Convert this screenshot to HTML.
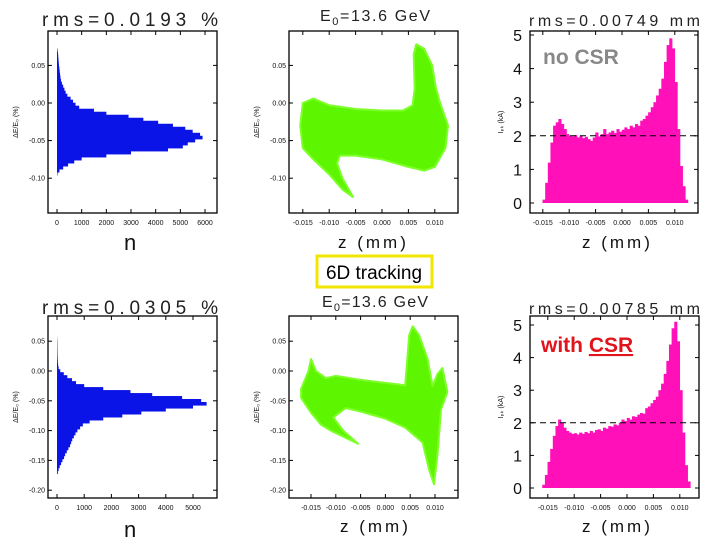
<!DOCTYPE html>
<html><head><meta charset="utf-8"><style>
html,body{margin:0;padding:0;background:#fff;}
svg{display:block;font-family:"Liberation Sans",sans-serif;}
.tt{font-size:19px;font-weight:300;fill:#222}
.tk{font-size:7px;fill:#111}
.big{font-size:16px;fill:#111}
.ax{font-size:17px;letter-spacing:3px;fill:#111}
</style></head><body>
<svg id="fig" width="720" height="540" viewBox="0 0 720 540" xmlns="http://www.w3.org/2000/svg">
<g id="layer"></g>
<text class="tt" x="42" y="26" textLength="176" lengthAdjust="spacing">rms=0.0193 %</text>
<text class="tt" x="320" y="21" style="font-size:16px" textLength="110" lengthAdjust="spacing">E<tspan dy="4" font-size="11">0</tspan><tspan dy="-4">=13.6 GeV</tspan></text>
<text class="tt" x="529" y="26" style="font-size:16px" textLength="171" lengthAdjust="spacing">rms=0.00749 mm</text>
<text class="tt" x="42" y="314" textLength="176" lengthAdjust="spacing">rms=0.0305 %</text>
<text class="tt" x="322" y="307" style="font-size:16px" textLength="106" lengthAdjust="spacing">E<tspan dy="4" font-size="11">0</tspan><tspan dy="-4">=13.6 GeV</tspan></text>
<text class="tt" x="529" y="314" style="font-size:16px" textLength="171" lengthAdjust="spacing">rms=0.00785 mm</text>
<text class="ax" x="124" y="250" style="font-size:22px">n</text>
<text class="ax" x="338" y="248">z (mm)</text>
<text class="ax" x="582" y="248">z (mm)</text>
<text class="ax" x="124" y="537" style="font-size:22px">n</text>
<text class="ax" x="340" y="532">z (mm)</text>
<text class="ax" x="582" y="532">z (mm)</text>
<rect x="317" y="256" width="115" height="31" fill="#fff" stroke="#f2e600" stroke-width="3"/>
<text x="374" y="279" text-anchor="middle" font-size="19" fill="#000">6D tracking</text>
<text x="543" y="64" font-size="21" font-weight="bold" fill="#888">no CSR</text>
<text x="541" y="352" font-size="21" font-weight="bold" fill="#e0141c">with <tspan text-decoration="underline">CSR</tspan></text>
</svg>
<script>
// ---- data ----
const blueTopCenters=[0.070,0.066,0.062,0.058,0.054,0.050,0.046,0.042,0.038,0.034,0.030,0.026,0.022,0.018,0.014,0.010,0.006,0.002,-0.002,-0.006,-0.010,-0.014,-0.018,-0.022,-0.026,-0.030,-0.034,-0.038,-0.042,-0.046,-0.050,-0.054,-0.058,-0.062,-0.066,-0.070,-0.074,-0.078,-0.082,-0.086,-0.090,-0.094];
const blueTopCounts=[20,40,50,60,70,80,95,110,125,140,160,200,250,300,350,420,550,650,750,900,1500,2000,2900,3500,4100,4700,5200,5500,5800,5900,5600,5300,5100,4500,3000,2000,1000,700,450,250,100,20];
const blueBotCenters=[0.055,0.05,0.045,0.04,0.035,0.03,0.025,0.02,0.015,0.01,0.005,0.0,-0.005,-0.01,-0.015,-0.02,-0.025,-0.03,-0.035,-0.04,-0.045,-0.05,-0.055,-0.06,-0.065,-0.07,-0.075,-0.08,-0.085,-0.09,-0.095,-0.1,-0.105,-0.11,-0.115,-0.12,-0.125,-0.13,-0.135,-0.14,-0.145,-0.15,-0.155,-0.16,-0.165,-0.17];
const blueBotCounts=[5,10,12,14,16,18,20,25,30,40,60,120,250,380,550,700,1000,1700,2700,3500,4600,5300,5500,5000,4000,3100,2400,1700,1200,950,850,750,680,620,560,520,480,420,360,300,260,200,150,100,60,30];
const pinkTopStart=-0.0148;
const pinkTopCurrent=[0.1,0.6,1.2,1.8,2.3,2.4,2.5,2.35,2.2,2.05,2.0,1.98,2.02,1.95,2.0,1.93,1.97,1.9,1.85,1.95,2.1,1.98,2.05,2.2,2.05,2.1,2.15,2.08,2.2,2.12,2.18,2.25,2.2,2.3,2.25,2.35,2.3,2.45,2.5,2.6,2.7,2.85,3.0,3.2,3.4,3.7,4.2,4.7,4.9,4.6,3.6,2.2,1.1,0.5,0.1];
const pinkBotStart=-0.0158;
const pinkBotCurrent=[0.1,0.4,0.8,1.2,1.6,1.9,2.1,2.0,1.85,1.75,1.7,1.66,1.68,1.64,1.7,1.66,1.72,1.68,1.75,1.7,1.78,1.8,1.75,1.85,1.82,1.9,1.88,1.95,1.92,2.0,2.1,2.05,2.15,2.1,2.2,2.18,2.25,2.3,2.28,2.45,2.5,2.6,2.7,2.8,3.0,3.2,3.5,3.9,4.4,4.9,5.1,4.5,3.0,1.7,0.7,0.2];
const pinkBinWidth=0.0005;
const greenTopZ=[-0.0155,-0.015,-0.013,-0.010,-0.005,0.0,0.004,0.0058,0.0062,0.006,0.0065,0.008,0.0095,0.0102,0.011,0.0125,0.012,0.010,0.008,0.005,0.0,-0.005,-0.008,-0.0085,-0.0075,-0.0055,-0.0075,-0.010,-0.013,-0.015];
const greenTopE=[-0.03,0.0,0.006,-0.003,-0.008,-0.01,-0.01,-0.003,0.02,0.065,0.078,0.072,0.05,0.02,0.0,-0.03,-0.06,-0.085,-0.09,-0.085,-0.075,-0.07,-0.07,-0.08,-0.10,-0.125,-0.115,-0.095,-0.075,-0.06];
const greenBotZ=[-0.017,-0.0155,-0.015,-0.014,-0.012,-0.010,-0.005,0.0,0.004,0.0048,0.0055,0.0068,0.0085,0.0095,0.0105,0.0115,0.0125,0.0112,0.0105,0.0098,0.0088,0.0075,0.004,0.0,-0.005,-0.008,-0.0105,-0.0085,-0.0055,-0.008,-0.011,-0.013,-0.015,-0.017];
const greenBotE=[-0.03,0.0,0.02,0.0,-0.012,-0.008,-0.015,-0.02,-0.024,0.06,0.075,0.06,0.02,-0.025,-0.005,0.005,-0.035,-0.065,-0.14,-0.19,-0.165,-0.12,-0.095,-0.08,-0.068,-0.062,-0.078,-0.1,-0.122,-0.112,-0.1,-0.09,-0.07,-0.045];
const nTicksTop=[0,1000,2000,3000,4000,5000,6000];
const nTicksBot=[0,1000,2000,3000,4000,5000];
const eTicksTop=[0.05,0.00,-0.05,-0.10];
const eTicksBot=[0.05,0.00,-0.05,-0.10,-0.15,-0.20];
const zTicks=[-0.015,-0.010,-0.005,0.000,0.005,0.010];
const iTicks=[0,1,2,3,4,5];

// ---- panels (axis functions) ----
const NS="http://www.w3.org/2000/svg";
const L=document.getElementById('layer');
function mk(tag,attrs){const e=document.createElementNS(NS,tag);for(const k in attrs)e.setAttribute(k,attrs[k]);L.appendChild(e);return e;}
const panels={
 t1:{x0:48,x1:217,y0:31,y1:213,X:n=>57+n*0.02467,Y:v=>103-v*752},
 t2:{x0:289,x1:458,y0:31,y1:213,X:z=>382+z*5280,Y:v=>103-v*752},
 t3:{x0:530,x1:698,y0:31,y1:213,X:z=>622+z*5280,Y:v=>203-v*33.6},
 b1:{x0:48,x1:217,y0:316,y1:498,X:n=>57+n*0.0272,Y:v=>371-v*596},
 b2:{x0:289,x1:458,y0:316,y1:498,X:z=>385.4+z*4960,Y:v=>371-v*596},
 b3:{x0:530,x1:699,y0:316,y1:498,X:z=>627+z*5280,Y:v=>488-v*32.6}
};
function fmtE(v){return v.toFixed(2);}
function frame(key,name,xt,yt,xfmt,yfmt,bigY,ylabel){
 const p=panels[key];
 const r=mk('rect',{x:p.x0,y:p.y0,width:p.x1-p.x0,height:p.y1-p.y0,fill:'none',stroke:'#000','stroke-width':1.3});
 
 
 xt.forEach(v=>{const x=p.X(v);
  mk('line',{x1:x,x2:x,y1:p.y1,y2:p.y1-4,stroke:'#000'});mk('line',{x1:x,x2:x,y1:p.y0,y2:p.y0+4,stroke:'#000'});
  const t=mk('text',{x:x,y:p.y1+12,'text-anchor':'middle',class:'tk'});t.textContent=xfmt(v);
  
  });
 yt.forEach(v=>{const y=p.Y(v);
  mk('line',{x1:p.x0,x2:p.x0+4,y1:y,y2:y,stroke:'#000'});mk('line',{x1:p.x1,x2:p.x1-4,y1:y,y2:y,stroke:'#000'});
  const t=mk('text',{x:p.x0-(bigY?8:3),y:y+(bigY?6:2.5),'text-anchor':'end',class:bigY?'big':'tk'});t.textContent=yfmt(v);
  
  });
 const lx=bigY?503:p.x0-30, ly=(p.y0+p.y1)/2;
 const yl=mk('text',{x:lx,y:ly,'text-anchor':'middle',class:'tk',transform:`rotate(-90 ${lx} ${ly})`});yl.textContent=ylabel;
 
 
}
function blue(key,name,c,n){const p=panels[key];const h=Math.abs(p.Y(0)-p.Y(c[0]-c[1]))+0.6;
 c.forEach((v,i)=>{const y=p.Y(v)-h/2;const b=mk('rect',{x:p.X(0),y:y,width:p.X(n[i])-p.X(0),height:h,fill:'#0a14e6'});
  
  });}
function pink(key,name,start,vals){const p=panels[key];
 vals.forEach((v,i)=>{const z=start+i*pinkBinWidth;const x=p.X(z-pinkBinWidth/2);const w=p.X(z+pinkBinWidth/2)-x+0.5;
  const b=mk('rect',{x:x,y:p.Y(v),width:w,height:p.Y(0)-p.Y(v),fill:'#ff10b8'});
  
  });
 const d=mk('line',{x1:p.x0,x2:p.x1,y1:p.Y(2),y2:p.Y(2),stroke:'#000','stroke-dasharray':'6,4','stroke-width':1});
 
 }
function green(key,name,zs,es){const p=panels[key];
 const pts=zs.map((z,i)=>p.X(z).toFixed(1)+','+p.Y(es[i]).toFixed(1)).join(' ');
 const g=mk('polygon',{points:pts,fill:'#5ef500',stroke:'#7dff2a','stroke-width':2,'stroke-linejoin':'round'});
 
 }

blue('t1','energy-histogram-no-csr',blueTopCenters,blueTopCounts);
green('t2','phase-space-no-csr',greenTopZ,greenTopE);
pink('t3','current-profile-no-csr',pinkTopStart,pinkTopCurrent);
blue('b1','energy-histogram-with-csr',blueBotCenters,blueBotCounts);
green('b2','phase-space-with-csr',greenBotZ,greenBotE);
pink('b3','current-profile-with-csr',pinkBotStart,pinkBotCurrent);

const ef='ΔE/E\u2080 (%)';
frame('t1','energy-histogram-no-csr',nTicksTop,eTicksTop,v=>String(v),fmtE,false,ef);
frame('t2','phase-space-no-csr',zTicks,eTicksTop,v=>v.toFixed(3),fmtE,false,ef);
frame('t3','current-profile-no-csr',zTicks,iTicks,v=>v.toFixed(3),v=>String(v),true,'I\u209a\u2096 (kA)');
frame('b1','energy-histogram-with-csr',nTicksBot,eTicksBot,v=>String(v),fmtE,false,ef);
frame('b2','phase-space-with-csr',zTicks,eTicksBot,v=>v.toFixed(3),fmtE,false,ef);
frame('b3','current-profile-with-csr',zTicks,iTicks,v=>v.toFixed(3),v=>String(v),true,'I\u209a\u2096 (kA)');
</script>
</body></html>
